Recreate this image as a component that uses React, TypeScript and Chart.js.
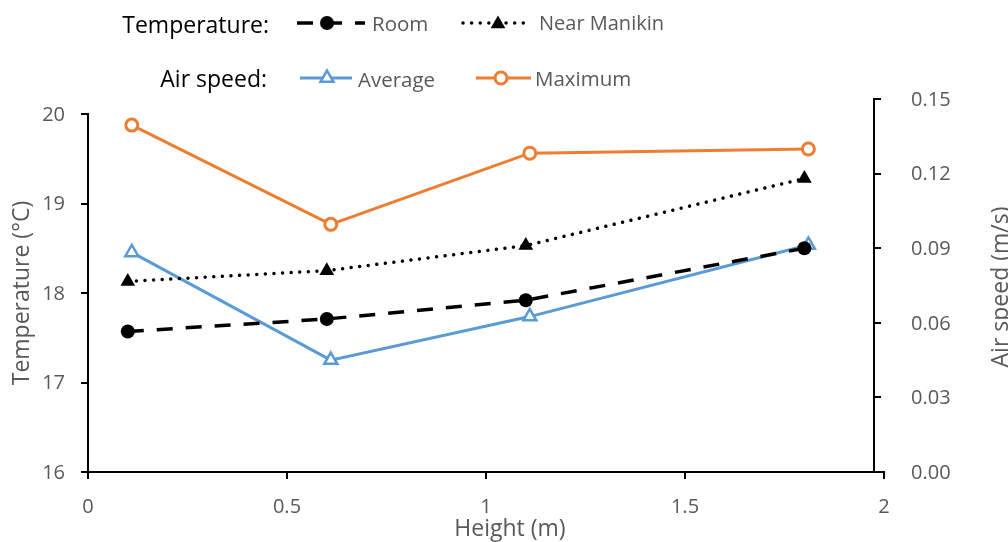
import React, { useEffect, useRef } from "react";
import { Chart, registerables } from "chart.js";

Chart.register(...registerables);

// ---- data ----
const tempHeights = [0.1, 0.6, 1.1, 1.8];
const roomTemp = [17.57, 17.71, 17.92, 18.5];
const manikinTemp = [18.13, 18.25, 18.53, 19.28];
const speedHeights = [0.11, 0.61, 1.11, 1.81];
const avgSpeed = [0.0883, 0.045, 0.0625, 0.0913];
const maxSpeed = [0.1395, 0.0996, 0.1282, 0.1299];
const heightTicks = [0, 0.5, 1, 1.5, 2];
const tempTicks = [16, 17, 18, 19, 20];
const speedTicks = [0, 0.03, 0.06, 0.09, 0.12, 0.15];
const speedAxisAt = 1.975;

const GRAY = "#595959";
const BLUE = "#5B9BD5";
const ORANGE = "#ED7D31";
const FONT = "'Open Sans', sans-serif";

const leftAxisLine = {
  id: "leftAxisLine",
  beforeDatasetsDraw(chart: any) {
    const y = chart.scales.y;
    const ctx = chart.ctx;
    const top = y.getPixelForValue(tempTicks[tempTicks.length - 1]);
    const bottom = y.getPixelForValue(tempTicks[0]);
    ctx.save();
    ctx.strokeStyle = "#000";
    ctx.lineWidth = 2;
    ctx.beginPath();
    ctx.moveTo(y.right, top - 1);
    ctx.lineTo(y.right, bottom + 1);
    ctx.stroke();
    ctx.restore();
  },
};

function pts(xs: number[], ys: number[]) {
  return xs.map((x, i) => ({ x, y: ys[i] }));
}

function ChartCanvas() {
  const ref = useRef<HTMLCanvasElement | null>(null);
  useEffect(() => {
    if (!ref.current) return;
    Chart.defaults.font.family = FONT;
    const tickFont = { family: FONT, size: 20 };
    const chart = new Chart(ref.current, {
      type: "line",
      data: {
        datasets: [
          {
            label: "Room",
            data: pts(tempHeights, roomTemp),
            yAxisID: "y",
            borderColor: "#000",
            borderWidth: 3.5,
            borderDash: [16, 13],
            pointStyle: "circle",
            pointRadius: 7,
            pointBackgroundColor: "#000",
            pointBorderColor: "#000",
            pointBorderWidth: 0,
          },
          {
            label: "Near Manikin",
            data: pts(tempHeights, manikinTemp),
            yAxisID: "y",
            borderColor: "#000",
            borderWidth: 3.5,
            borderDash: [0.01, 8.6],
            borderCapStyle: "round",
            pointStyle: "triangle",
            pointRadius: 8.5,
            pointBackgroundColor: "#000",
            pointBorderColor: "#000",
            pointBorderWidth: 0,
          },
          {
            label: "Average",
            data: pts(speedHeights, avgSpeed),
            yAxisID: "y2",
            borderColor: BLUE,
            borderWidth: 3,
            pointStyle: "triangle",
            pointRadius: 7.5,
            pointBackgroundColor: "#fff",
            pointBorderColor: BLUE,
            pointBorderWidth: 2.5,
          },
          {
            label: "Maximum",
            data: pts(speedHeights, maxSpeed),
            yAxisID: "y2",
            borderColor: ORANGE,
            borderWidth: 3,
            pointStyle: "circle",
            pointRadius: 6,
            pointBackgroundColor: "#fff",
            pointBorderColor: ORANGE,
            pointBorderWidth: 3,
          },
        ],
      },
      options: {
        animation: false,
        responsive: false,
        maintainAspectRatio: false,
        layout: { padding: { left: 0, right: 0, top: 99, bottom: 0 } },
        plugins: { legend: { display: false }, tooltip: { enabled: false } },
        elements: { line: { tension: 0 } },
        scales: {
          x: {
            type: "linear",
            position: "bottom",
            min: heightTicks[0],
            max: heightTicks[heightTicks.length - 1],
            afterBuildTicks: (s: any) => {
              s.ticks = heightTicks.map((v) => ({ value: v }));
            },
            afterFit: (s: any) => {
              s.height = 70;
            },
            grid: { drawOnChartArea: false, tickLength: 7, color: "#000", lineWidth: 2 },
            border: { color: "#000", width: 2 },
            ticks: {
              color: GRAY,
              font: tickFont,
              padding: 16,
              autoSkip: false,
              maxRotation: 0,
              callback: (v: any) => String(v),
            },
          },
          y: {
            type: "linear",
            position: "left",
            min: 16,
            max: 20.168,
            afterBuildTicks: (s: any) => {
              s.ticks = tempTicks.map((v) => ({ value: v }));
            },
            afterFit: (s: any) => {
              s.width = 88;
            },
            grid: { drawOnChartArea: false, tickLength: 7, color: "#000", lineWidth: 2 },
            border: { display: false },
            ticks: {
              color: GRAY,
              font: tickFont,
              padding: 16,
              labelOffset: 1,
              autoSkip: false,
              callback: (v: any) => String(v),
            },
          },
          // air-speed axis line + tick marks, placed at x = speedAxisAt
          y2: {
            type: "linear",
            position: { x: speedAxisAt } as any,
            min: speedTicks[0],
            max: speedTicks[speedTicks.length - 1],
            afterBuildTicks: (s: any) => {
              s.ticks = speedTicks.map((v) => ({ value: v }));
            },
            grid: { drawOnChartArea: false, tickLength: -8, color: "#000", lineWidth: 2 },
            border: { color: "#000", width: 2 },
            ticks: { display: false, padding: 0 },
          },
          // air-speed tick labels
          y3: {
            type: "linear",
            position: "right",
            min: speedTicks[0],
            max: speedTicks[speedTicks.length - 1],
            afterBuildTicks: (s: any) => {
              s.ticks = speedTicks.map((v) => ({ value: v }));
            },
            afterFit: (s: any) => {
              s.width = 124;
            },
            grid: { display: false, drawTicks: false, drawOnChartArea: false },
            border: { display: false },
            ticks: {
              color: GRAY,
              font: tickFont,
              padding: 27,
              labelOffset: 1,
              autoSkip: false,
              callback: (v: any) => Number(v).toFixed(2),
            },
          },
        } as any,
      },
      plugins: [leftAxisLine],
    } as any);
    return () => chart.destroy();
  }, []);
  return (
    <canvas
      ref={ref}
      width={1008}
      height={542}
      style={{ position: "absolute", left: 0, top: 0, width: 1008, height: 542 }}
    />
  );
}

function Txt(props: {
  x: number;
  y: number;
  text: string;
  align?: "left" | "right" | "center";
  color?: string;
  size?: number;
  rotate?: boolean;
}) {
  const { x, y, text, align = "left", color = GRAY, size = 20, rotate = false } = props;
  const base: any = {
    position: "absolute",
    top: y,
    fontFamily: FONT,
    fontSize: size,
    lineHeight: 1,
    color,
    whiteSpace: "nowrap",
  };
  if (rotate || align === "center") {
    base.left = x;
    base.transform = `translate(-50%, -50%)${rotate ? " rotate(-90deg)" : ""}`;
  } else if (align === "right") {
    base.right = 1008 - x;
    base.transform = "translateY(-50%)";
  } else {
    base.left = x;
    base.transform = "translateY(-50%)";
  }
  return <div style={base}>{text}</div>;
}

function triPoints(cx: number, cy: number, r: number) {
  const a = [-Math.PI / 2, Math.PI / 6, (5 * Math.PI) / 6];
  return a.map((t) => `${cx + r * Math.cos(t)},${cy + r * Math.sin(t)}`).join(" ");
}

function LegendMarks() {
  return (
    <svg
      width={1008}
      height={542}
      style={{ position: "absolute", left: 0, top: 0, pointerEvents: "none" }}
    >
      <line x1={297} y1={23} x2={365} y2={23} stroke="#000" strokeWidth={3.5} strokeDasharray="16 13" />
      <circle cx={327} cy={23} r={7} fill="#000" />
      <line
        x1={463}
        y1={23}
        x2={528}
        y2={23}
        stroke="#000"
        strokeWidth={3.5}
        strokeDasharray="0.01 8.6"
        strokeLinecap="round"
      />
      <polygon points={triPoints(498, 24, 8.5)} fill="#000" />
      <line x1={300} y1={78} x2={352} y2={78} stroke={BLUE} strokeWidth={3} />
      <polygon points={triPoints(327, 78, 7.5)} fill="#fff" stroke={BLUE} strokeWidth={2.5} />
      <line x1={476} y1={78} x2={531} y2={78} stroke={ORANGE} strokeWidth={3} />
      <circle cx={501} cy={78} r={6} fill="#fff" stroke={ORANGE} strokeWidth={3} />
    </svg>
  );
}

export default function App() {
  return (
    <div style={{ position: "absolute", left: 0, top: 0, width: 1008, height: 542, background: "#fff", overflow: "hidden" }}>
      <ChartCanvas />
      <LegendMarks />
      <Txt x={269} y={24} text="Temperature:" align="right" color="#000" size={23} />
      <Txt x={372} y={23} text="Room" size={20.5} />
      <Txt x={539} y={23} text="Near Manikin" />
      <Txt x={267} y={78} text="Air speed:" align="right" color="#000" size={23} />
      <Txt x={358} y={79} text="Average" size={20.5} />
      <Txt x={535} y={78} text="Maximum" size={20.5} />
      <Txt x={20} y={293} text="Temperature (°C)" rotate size={23} />
      <Txt x={510} y={527} text="Height (m)" align="center" size={23} />
      <Txt x={999} y={287} text="Air speed (m/s)" rotate size={23} />
    </div>
  );
}
